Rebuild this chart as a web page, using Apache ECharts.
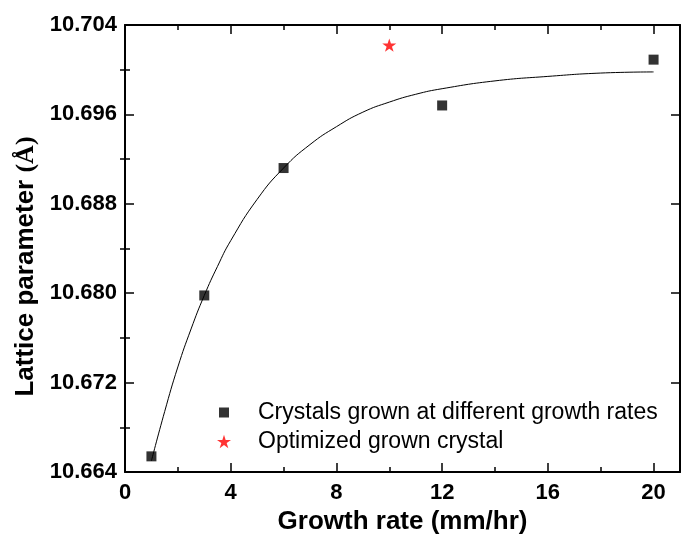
<!DOCTYPE html>
<html>
<head>
<meta charset="utf-8">
<script src="https://cdn.jsdelivr.net/npm/echarts@6/dist/echarts.min.js"></script>
<style>
  html, body { margin: 0; padding: 0; background: #fff; }
  #chart { width: 682px; height: 535px; }
</style>
</head>
<body>
<div id="chart"></div>
<script>
// Measured lattice parameters for crystals grown at different rates
const rates = [1, 3, 6, 12, 20];
const lattice = [10.6654, 10.6798, 10.6912, 10.6968, 10.7009];

// Optimized crystal
const optRates = [10];
const optLattice = [10.7022];

// Fitted growth curve through the measurements
const fitRates = [1, 1.5, 2, 2.5, 3, 3.5, 4, 5, 6, 7, 8, 9, 10, 11, 12, 14, 16, 18, 20];
const fitLattice = [10.6650, 10.6694, 10.6734, 10.6768, 10.6798, 10.6824, 10.6847, 10.6884,
  10.6912, 10.6933, 10.6949, 10.6962, 10.6971, 10.6978, 10.6983, 10.6990, 10.6994, 10.6997, 10.6998];

// Axis ticks
const xMajor = [0, 4, 8, 12, 16, 20];
const xMinor = [2, 6, 10, 14, 18];
const yMajor = [10.664, 10.672, 10.680, 10.688, 10.696, 10.704];
const yMinor = [10.668, 10.676, 10.684, 10.692, 10.700];

const seriesNames = ['Crystals grown at different growth rates', 'Optimized grown crystal'];

const STAR = 'path://M100,0 L122.45,69.1 L195.1,69.1 L136.33,111.8 L158.78,180.9 L100,138.2 L41.22,180.9 L63.67,111.8 L4.9,69.1 L77.55,69.1 Z';

const X_MIN = 0, X_MAX = 21, Y_MIN = 10.664, Y_MAX = 10.704;
const SANS = 'Liberation Sans, Arial, sans-serif';
const SERIF = 'Liberation Serif, Times New Roman, serif';
const lineStyle = { color: '#000', width: 2 };
const labelFont = { color: '#000', fontFamily: SANS, fontWeight: 'bold', fontSize: 22 };

function axisDef(position, min, max, ticks, tickLen, extra) {
  return Object.assign({
    type: 'value', position: position, min: min, max: max,
    axisLine: { show: true, onZero: false, lineStyle: lineStyle },
    axisTick: { show: true, inside: true, length: tickLen, customValues: ticks, lineStyle: { color: '#000', width: 1.5 } },
    axisLabel: { show: false },
    splitLine: { show: false }
  }, extra || {});
}
const xAxisDef = (pos, ticks, len, extra) => axisDef(pos, X_MIN, X_MAX, ticks, len, extra);
const yAxisDef = (pos, ticks, len, extra) => axisDef(pos, Y_MIN, Y_MAX, ticks, len, extra);

const legendText = gap => ({
  rich: {
    g: { width: gap },
    t: { fontFamily: SANS, fontSize: 23, color: '#000', lineHeight: 24 }
  }
});

const chart = echarts.init(document.getElementById('chart'), null, { renderer: 'canvas' });

chart.setOption({
  animation: false,
  backgroundColor: '#fff',
  grid: { left: 125, right: 2, top: 25, bottom: 63, containLabel: false, outerBoundsMode: 'none' },
  legend: [
    {
      data: [{ name: seriesNames[0], icon: 'rect' }],
      left: 219, top: 401, padding: 0, itemWidth: 10, itemHeight: 10,
      selectedMode: false,
      formatter: n => '{g|}{t|' + n + '}',
      textStyle: legendText(24)
    },
    {
      data: [{ name: seriesNames[1], icon: STAR }],
      left: 217, top: 430, padding: 0, itemWidth: 14, itemHeight: 14,
      selectedMode: false,
      formatter: n => '{g|}{t|' + n + '}',
      textStyle: legendText(22)
    }
  ],
  xAxis: [
    xAxisDef('bottom', xMajor, 9, {
      axisLabel: { show: true, customValues: xMajor, margin: 10, formatter: v => String(v), ...labelFont },
      name: 'Growth rate (mm/hr)', nameLocation: 'middle', nameGap: 36,
      nameTextStyle: { color: '#000', fontFamily: SANS, fontWeight: 'bold', fontSize: 26 }
    }),
    xAxisDef('bottom', xMinor, 5, { axisLine: { show: false } }),
    xAxisDef('top', xMajor, 9),
    xAxisDef('top', xMinor, 5, { axisLine: { show: false } })
  ],
  yAxis: [
    yAxisDef('left', yMajor, 9, {
      axisLabel: { show: true, customValues: yMajor, margin: 8, formatter: v => v.toFixed(3), ...labelFont },
      // trailing blank token nudges the title toward the lower half of the axis
      name: '{a|Lattice parameter }{b|(Å)}{g|}', nameLocation: 'middle', nameGap: 80, nameRotate: 90,
      nameTextStyle: {
        rich: {
          a: { color: '#000', fontFamily: SANS, fontWeight: 'bold', fontSize: 26 },
          b: { color: '#000', fontFamily: SERIF, fontWeight: 'bold', fontSize: 26 },
          g: { width: 36 }
        }
      }
    }),
    yAxisDef('left', yMinor, 5, { axisLine: { show: false } }),
    yAxisDef('right', yMajor, 9),
    yAxisDef('right', yMinor, 5, { axisLine: { show: false } })
  ],
  series: [
    {
      name: 'fit', type: 'line', xAxisIndex: 0, yAxisIndex: 0,
      data: fitRates.map((x, i) => [x, fitLattice[i]]),
      smooth: true, showSymbol: false, symbol: 'none',
      lineStyle: { color: '#000', width: 1 }, z: 2, silent: true
    },
    {
      name: seriesNames[0], type: 'scatter', xAxisIndex: 0, yAxisIndex: 0,
      data: rates.map((x, i) => [x, lattice[i]]),
      symbol: 'rect', symbolSize: 10, itemStyle: { color: '#000' }, z: 3
    },
    {
      name: seriesNames[1], type: 'scatter', xAxisIndex: 0, yAxisIndex: 0,
      data: optRates.map((x, i) => [x, optLattice[i]]),
      symbol: STAR, symbolSize: 14, symbolKeepAspect: true, itemStyle: { color: '#ff0000' }, z: 3
    }
  ]
});
</script>
</body>
</html>
